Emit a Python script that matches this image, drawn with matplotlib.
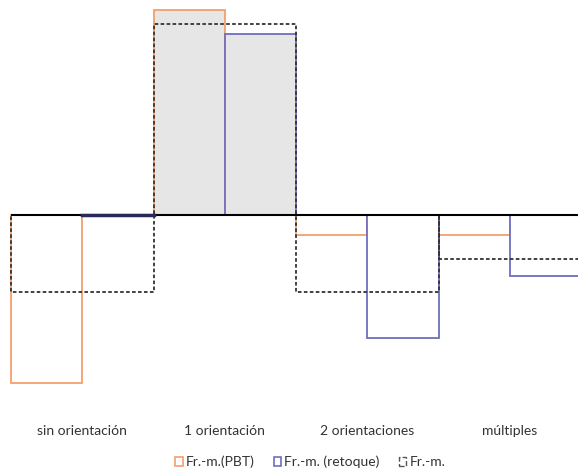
import numpy as np
import matplotlib.pyplot as plt
from matplotlib.patches import Patch

plt.rcParams['font.family'] = ['Lato', 'DejaVu Sans']

categories = ['sin orientación', '1 orientación', '2 orientaciones', 'múltiples']
pbt = [-16.8, 20.5, -2.0, -2.0]
retoque = [0.0, 18.1, -12.3, -6.1]
frm = [-7.7, 19.1, -7.7, -4.4]
legend_labels = ['Fr.-m.(PBT)', 'Fr.-m. (retoque)', 'Fr.-m.']

ORANGE = '#F4A06A'
BLUE = '#6E6EBE'
GREY = '#E6E6E6'

fig = plt.figure(figsize=(5.78, 4.71), dpi=100)
ax = fig.add_axes([11/578, 66/471, 570/578, 400/471])

x = np.arange(len(categories))
w = 0.5

fills = [GREY if v > 0 else 'white' for v in pbt]
ax.bar(x - w/2, pbt, width=w, color=fills, edgecolor=ORANGE, linewidth=1.3, zorder=2, clip_on=False)
fills = [GREY if v > 0 else 'white' for v in retoque]
ax.bar(x + w/2, retoque, width=w, color=fills, edgecolor=BLUE, linewidth=1.3, zorder=2, clip_on=False)
# zero height bar shows as a dark line
ax.plot([x[0], x[0] + w], [0, 0], color='#2a2a5a', linewidth=2.5, zorder=4)

ax.bar(x, frm, width=2*w, fill=False, edgecolor='#333333', linestyle=(0, (2, 1.3)),
       linewidth=1.3, zorder=3, clip_on=False)

ax.axhline(0, color='black', linewidth=1.5, zorder=3.5)

ax.set_xlim(-0.5, 3.5)
ax.set_ylim(-19, 21)
ax.set_xticks(x)
ax.set_xticklabels(categories, fontsize=10, color='#333333')
ax.tick_params(axis='x', length=0, pad=14.5)
ax.set_yticks([])
for s in ax.spines.values():
    s.set_visible(False)

handles = [Patch(facecolor='white', edgecolor=ORANGE, linewidth=1.2),
           Patch(facecolor='white', edgecolor=BLUE, linewidth=1.2),
           Patch(facecolor='white', edgecolor='#555555', linestyle='--', linewidth=1.0)]
leg = fig.legend(handles, legend_labels, loc='center', bbox_to_anchor=(310/578, 1 - 462/471),
                 ncol=3, frameon=False, fontsize=10, handlelength=0.55, handleheight=0.55,
                 handletextpad=0.2, columnspacing=1.4)
for t in leg.get_texts():
    t.set_color('#333333')

fig.savefig('out.png', dpi=100)
